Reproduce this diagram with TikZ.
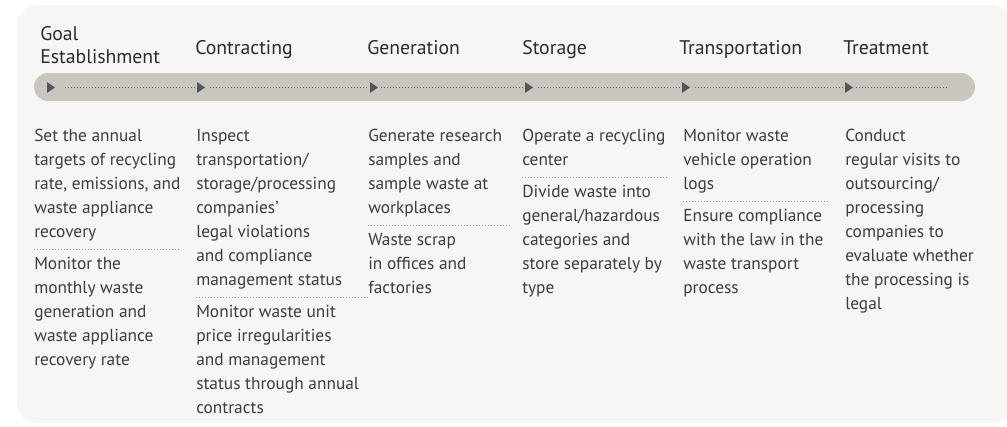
\documentclass[tikz,border=0pt]{standalone}
\usepackage{fontspec}
\setmainfont{PT Sans}
\definecolor{bgc}{HTML}{F6F6F4}
\definecolor{barc}{HTML}{C9C6BF}
\definecolor{tric}{HTML}{555555}
\definecolor{trkdot}{HTML}{666666}
\definecolor{sepc}{HTML}{8A8A8A}
\definecolor{txt}{HTML}{3C3C3C}
\definecolor{hd}{HTML}{2B2B2B}
\newcommand\mystrut{\rule{0pt}{10.5pt}}
\begin{document}
\begin{tikzpicture}[x=0.75pt,y=-0.75pt,
  body/.style={anchor=north west, inner sep=0pt, align=left, font=\fontsize{13}{18}\selectfont, text=txt},
  head/.style={anchor=base west, inner sep=0pt, align=left, font=\fontsize{14.8}{17.25}\selectfont, text=hd},
  sepline/.style={draw=sepc, line width=0.75pt, dash pattern=on 0.75pt off 1.5pt},
  trkline/.style={draw=trkdot, line width=0.75pt, dash pattern=on 0.75pt off 1.5pt},
  trimark/.style={fill=tric}
]
\useasboundingbox (0,0) rectangle (1007,426);
\fill[bgc, rounded corners=15pt] (17,5) rectangle (1012,423);
\fill[barc, rounded corners=10.5pt] (34,73) rectangle (975,101);

% headers
\node[head, anchor=south west] (h1) at (40,64) {Goal\\Establishment};
\node[head] (h2) at (195,54) {Contracting};
\node[head] (h3) at (367,54) {Generation};
\node[head] (h4) at (522,54) {Storage};
\node[head] (h5) at (679,54) {Transportation};
\node[head] (h6) at (843,54) {Treatment};

% markers on the track
\foreach \i/\x in {1/47,2/197,3/370,4/525,5/682,6/845}{
  \coordinate (m\i) at (\x,87.5);
  \fill[trimark] (m\i) ++(0,-5.5) -- ++(8,5.5) -- ++(-8,5.5) -- cycle;
}
\coordinate (mend) at (947,87.5);
\draw[trkline] ([xshift=13.5pt]m1) -- ([xshift=-1pt]m2);
\draw[trkline] ([xshift=10pt]m2) -- ([xshift=-1pt]m3);
\draw[trkline] ([xshift=8pt]m3) -- ([xshift=-1pt]m4);
\draw[trkline] ([xshift=10pt]m4) -- ([xshift=-1pt]m5);
\draw[trkline] ([xshift=10pt]m5) -- ([xshift=-1pt]m6);
\draw[trkline] ([xshift=8pt]m6) -- (mend);

% column 1
\node[body] (a1) at (34,127) {\mystrut Set the annual\\targets of recycling\\rate, emissions, and\\waste appliance\\recovery};
\coordinate (s1a) at (34,249); \coordinate (s1b) at (181,249);
\draw[sepline] (s1a) -- (s1b);
\node[body] (b1) at (34,255) {\mystrut Monitor the\\monthly waste\\generation and\\waste appliance\\recovery rate};

% column 2
\node[body] (a2) at (196,127) {\mystrut Inspect\\transportation/\\storage/processing\\companies’\\legal violations\\and compliance\\management status};
\coordinate (s2a) at (196,297); \coordinate (s2b) at (370,297);
\draw[sepline] (s2a) -- (s2b);
\node[body] (b2) at (196,303) {\mystrut Monitor waste unit\\price irregularities\\and management\\status through annual\\contracts};

% column 3
\node[body] (a3) at (368,127) {\mystrut Generate research\\samples and\\sample waste at\\workplaces};
\coordinate (s3a) at (368,225); \coordinate (s3b) at (510,225);
\draw[sepline] (s3a) -- (s3b);
\node[body] (b3) at (368,231) {\mystrut Waste scrap\\in offices and\\factories};

% column 4
\node[body] (a4) at (522,127) {\mystrut Operate a recycling\\center};
\coordinate (s4a) at (522,177); \coordinate (s4b) at (667,177);
\draw[sepline] (s4a) -- (s4b);
\node[body] (b4) at (522,183) {\mystrut Divide waste into\\general/hazardous\\categories and\\store separately by\\type};

% column 5
\node[body] (a5) at (683,127) {\mystrut Monitor waste\\vehicle operation\\logs};
\coordinate (s5a) at (683,201); \coordinate (s5b) at (829,201);
\draw[sepline] (s5a) -- (s5b);
\node[body] (b5) at (683,207) {\mystrut Ensure compliance\\with the law in the\\waste transport\\process};

% column 6
\node[body] (a6) at (845,127) {\mystrut Conduct\\regular visits to\\outsourcing/\\processing\\companies to\\evaluate whether\\the processing is\\legal};
\end{tikzpicture}
\end{document}
